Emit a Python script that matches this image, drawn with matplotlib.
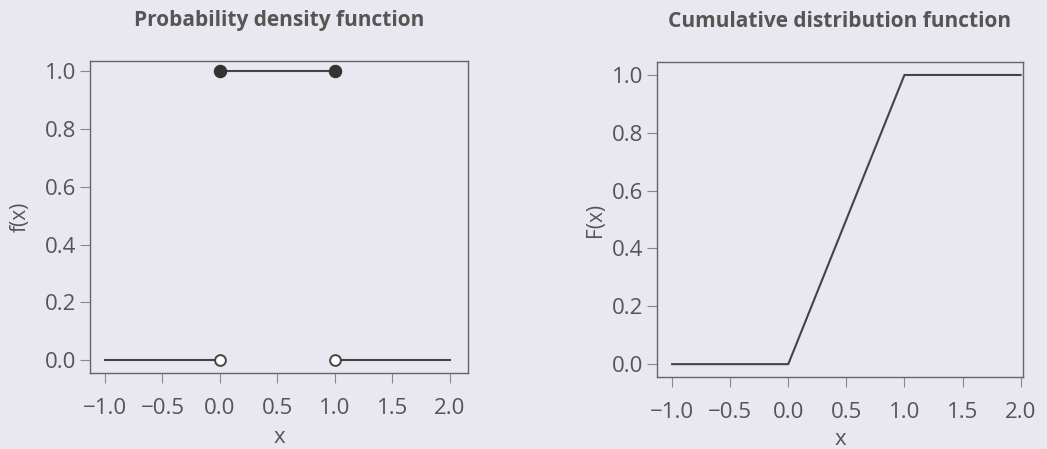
import matplotlib.pyplot as plt
import numpy as np

plt.rcParams['font.family'] = ['Open Sans', 'DejaVu Sans']

# pdf pieces of the uniform(0, 1) distribution
pdf_left_x = [-1.0, 0.0]
pdf_left_y = [0.0, 0.0]
pdf_mid_x = [0.0, 1.0]
pdf_mid_y = [1.0, 1.0]
pdf_right_x = [1.0, 2.0]
pdf_right_y = [0.0, 0.0]
closed_x = [0.0, 1.0]
closed_y = [1.0, 1.0]
open_x = [0.0, 1.0]
open_y = [0.0, 0.0]

# cdf
cdf_x = [-1.0, 0.0, 1.0, 2.0]
cdf_y = [0.0, 0.0, 1.0, 1.0]

xticks = [-1.0, -0.5, 0.0, 0.5, 1.0, 1.5, 2.0]
yticks = [0.0, 0.2, 0.4, 0.6, 0.8, 1.0]

bg = '#e9e7ef'
ink = '#444444'
txt = '#555555'

fig = plt.figure(figsize=(10.47, 4.49), dpi=100, facecolor=bg)

ax1 = fig.add_axes([0.086, 0.169, 0.361, 0.695])
ax2 = fig.add_axes([0.6275, 0.160, 0.3495, 0.702])


def fmt(t):
    return ('%.1f' % t).replace('-', '\u2212')


def style(ax, title, ylab, ypad, xpad):
    ax.set_facecolor(bg)
    for s in ax.spines.values():
        s.set_color('#666666')
        s.set_linewidth(1.0)
    ax.set_xticks(xticks)
    ax.set_yticks(yticks)
    ax.set_xticklabels([fmt(t) for t in xticks])
    ax.set_yticklabels([fmt(t) for t in yticks])
    ax.tick_params(direction='out', length=7, width=0.8, color='#888888',
                   labelcolor=txt, labelsize=16)
    ax.tick_params(axis='x', pad=11)
    ax.tick_params(axis='y', pad=3)
    ax.set_title(title, fontsize=15, fontweight='bold', color=txt, pad=25)
    ax.set_xlabel('x', fontsize=16, color=txt, labelpad=xpad)
    ax.set_ylabel(ylab, fontsize=15, color=txt, labelpad=ypad)


# left: pdf
ax1.plot(pdf_left_x, pdf_left_y, color=ink, lw=1.5, zorder=2)
ax1.plot(pdf_mid_x, pdf_mid_y, color=ink, lw=1.5, zorder=2)
ax1.plot(pdf_right_x, pdf_right_y, color=ink, lw=1.5, zorder=2)
ax1.scatter(closed_x, closed_y, s=75, color='#333333', zorder=3)
ax1.scatter(open_x, open_y, s=60, facecolor='white', edgecolor=ink,
            linewidth=1.4, zorder=3)
ax1.set_xlim(-1.13, 2.16)
ax1.set_ylim(-0.045, 1.035)
style(ax1, 'Probability density function', 'f(x)', 10, 6)

# right: cdf
ax2.plot(cdf_x, cdf_y, color=ink, lw=1.5)
ax2.set_xlim(-1.13, 2.02)
ax2.set_ylim(-0.045, 1.045)
style(ax2, 'Cumulative distribution function', 'F(x)', 4, 4)

fig.savefig('out.png', dpi=100, facecolor=bg)
